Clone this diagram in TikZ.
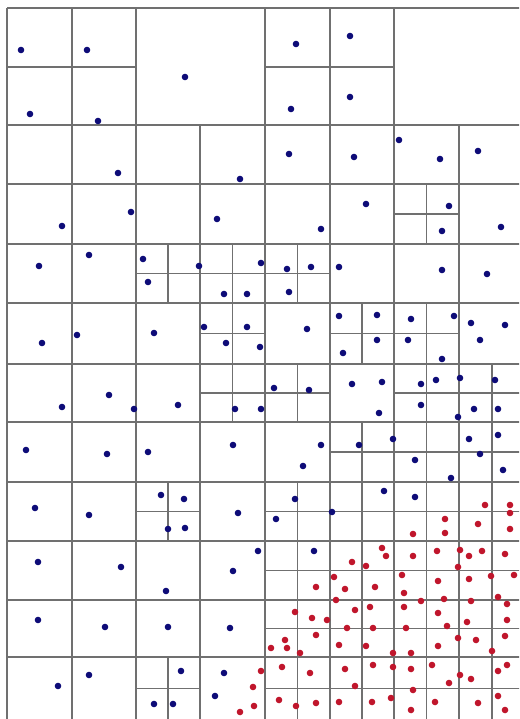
\documentclass[tikz,border=0pt]{standalone}
\definecolor{gridgray}{RGB}{112,112,112}
\definecolor{dotblue}{RGB}{14,12,120}
\definecolor{dotred}{RGB}{192,22,44}
\begin{document}
\begin{tikzpicture}[x=1pt,y=-1pt,
  gridline/.style={draw=gridgray,line width=1.4pt},
  bdot/.style={fill=dotblue},
  rdot/.style={fill=dotred}]
\useasboundingbox (0,0) rectangle (519,719);
\fill[white] (0,0) rectangle (519,719);
\clip (0,0) rectangle (519,719);
% main horizontal lines
\foreach \y in {8,125,184,244,303,364,422,482,541,600,657,720}
  \draw[gridline] (7,\y) -- (525,\y);
\draw[gridline] (7,67) -- (136,67);
\draw[gridline] (265,67) -- (394,67);
% main vertical lines
\foreach \x in {7,72,136,265,330,394,525}
  \draw[gridline] (\x,8) -- (\x,720);
\draw[gridline] (200,125) -- (200,720);
\draw[gridline] (459,125) -- (459,720);
% subdivided cells
\foreach \a/\b/\c/\d in {
  394/459/184/244,
  136/200/244/303, 200/265/244/303, 265/330/244/303,
  200/265/303/364, 330/394/303/364, 394/459/303/364,
  200/265/364/422, 265/330/364/422, 394/459/364/422, 459/525/364/422,
  330/394/422/482, 394/459/422/482, 459/525/422/482,
  136/200/482/541, 265/330/482/541, 330/394/482/541, 394/459/482/541, 459/525/482/541,
  265/330/541/600, 330/394/541/600, 394/459/541/600, 459/525/541/600,
  265/330/600/657, 330/394/600/657, 394/459/600/657, 459/525/600/657,
  136/200/657/720, 265/330/657/720, 330/394/657/720, 394/459/657/720, 459/525/657/720}
  \draw[gridline] ({(\a+\b)/2},\c) -- ({(\a+\b)/2},\d) (\a,{(\c+\d)/2}) -- (\b,{(\c+\d)/2});
% blue points
\foreach \x/\y in {
  21/50, 87/50, 30/114, 98/121, 118/173, 185/77, 296/44, 291/109, 289/154, 240/179,
  350/36, 350/97, 354/157, 399/140, 440/159, 478/151,
  62/226, 131/212, 39/266, 89/255, 143/259, 148/282, 42/343, 77/335, 154/333,
  217/219, 321/229, 199/266, 261/263, 287/269, 311/267, 339/267, 224/294, 247/294, 289/292,
  204/327, 247/327, 307/329, 339/316, 226/343, 260/347, 343/353,
  366/204, 449/206, 442/231, 501/227, 442/270, 487/274, 377/315, 411/319, 454/316,
  471/323, 505/325, 480/340, 377/340, 408/340, 442/359,
  62/407, 109/395, 134/409, 178/405, 26/450, 107/454, 148/452, 35/508, 89/515, 161/495, 168/529,
  274/388, 309/390, 235/409, 261/409, 233/445, 321/445, 303/466, 184/499, 238/513, 295/499,
  276/519, 332/512, 185/528,
  352/384, 382/382, 379/413, 421/384, 436/380, 460/378, 495/380, 421/405, 474/409, 498/409,
  458/417, 359/445, 393/439, 469/439, 498/435, 480/454, 415/460, 451/478, 503/470, 384/491, 415/497,
  38/562, 121/567, 166/591, 38/620, 105/627, 168/627, 89/675, 58/686, 154/704, 173/704,
  258/551, 233/571, 230/628, 181/671, 224/673, 215/696, 314/551}
  \fill[bdot] (\x,\y) circle[radius=3.3];
% red points
\foreach \x/\y in {
  485/505, 510/505, 510/513, 445/519, 478/524, 510/529, 445/533, 413/534,
  261/671, 253/687, 254/706, 240/712, 334/577, 316/587, 345/589, 336/600, 295/612, 312/618,
  327/620, 347/628, 285/640, 316/635, 339/645, 271/648, 287/648, 300/653, 282/667, 310/673,
  345/669, 279/700, 296/706, 316/703, 339/702,
  382/548, 386/556, 352/562, 366/566, 413/556, 437/551, 460/550, 469/556, 482/551, 505/554,
  458/567, 402/575, 375/587, 404/593, 438/581, 469/579, 491/576, 514/575, 421/601, 444/599,
  471/601, 498/597, 507/604, 355/610, 370/607, 404/607, 438/613, 467/622, 507/620, 373/628,
  406/628, 447/626, 458/638, 476/640, 505/636, 366/646, 393/653, 411/653, 438/646, 492/651,
  373/665, 393/667, 411/669, 432/665, 460/675, 471/679, 498/671, 507/665, 355/686, 449/683,
  413/690, 391/698, 372/702, 435/702, 478/703, 498/696, 505/710, 411/710}
  \fill[rdot] (\x,\y) circle[radius=3.3];
\end{tikzpicture}
\end{document}
